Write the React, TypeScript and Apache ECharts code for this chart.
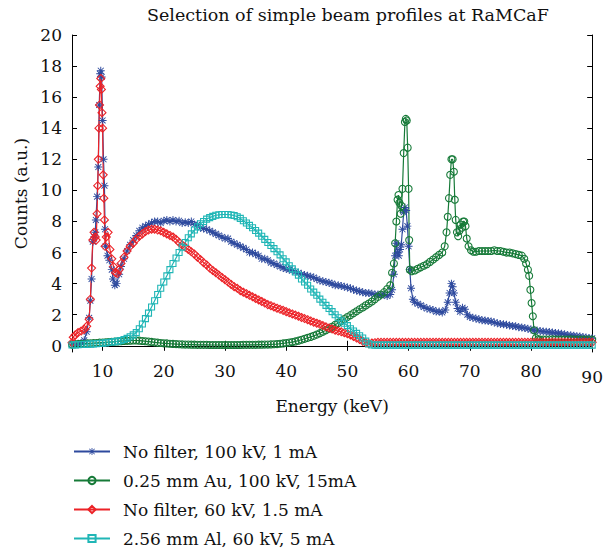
import React, { useEffect, useRef } from 'react';
import * as echarts from 'echarts';

const FONT = "'DejaVu Serif', 'Liberation Serif', serif";
const titleText = 'Selection of simple beam profiles at RaMCaF';
const xAxisName = 'Energy (keV)';
const yAxisName = 'Counts (a.u.)';
const xTickValues = [10, 20, 30, 40, 50, 60, 70, 80, 90];
const yTickValues = [0, 2, 4, 6, 8, 10, 12, 14, 16, 18, 20];
const seriesNames = [
  'No filter, 100 kV, 1 mA',
  '0.25 mm Au, 100 kV, 15mA',
  'No filter, 60 kV, 1.5 mA',
  '2.56 mm Al, 60 kV, 5 mA',
];
const seriesColors = ['#2e4a9e', '#167a38', '#ec2227', '#20b6b6'];

// No filter, 100 kV, 1 mA  [energy keV, counts]
const noFilter100 = [
  [5, 0.1], [5.5, 0.12], [6, 0.13], [6.5, 0.18], [7, 0.35], [7.4, 0.9], [7.8, 1.8], [8, 2.9], [8.2, 4.3], [8.4, 6.7],
  [8.6, 7.0], [8.8, 7.3], [8.9, 8.1], [9.1, 9.6], [9.3, 11.5], [9.45, 15.5], [9.6, 17.5], [9.7, 17.7], [9.85, 17.3], [10, 14.5],
  [10.15, 12], [10.3, 10.3], [10.4, 7.5], [10.5, 6.4], [10.8, 5.8], [11.1, 5.5], [11.5, 4.9], [11.7, 4.3], [12, 3.9], [12.3, 4.0],
  [12.7, 4.6], [13, 5.1], [13.5, 5.6], [14, 6.1], [14.5, 6.5], [15, 6.8], [15.5, 7.1], [16, 7.4], [16.5, 7.6], [17, 7.7],
  [17.5, 7.8], [18, 7.9], [18.5, 8.0], [19, 8.0], [19.5, 7.9], [20, 8.05], [20.5, 8.1], [21, 8.0], [21.5, 8.1], [22, 8.0],
  [22.5, 8.05], [23, 7.9], [23.5, 7.95], [24, 7.9], [24.5, 8.0], [25, 7.8], [25.5, 7.8], [26, 7.6], [26.5, 7.55], [27, 7.5],
  [27.5, 7.4], [28, 7.3], [28.5, 7.2], [29, 7.1], [29.5, 7.0], [30, 6.9], [30.5, 6.9], [31, 6.7], [31.5, 6.6], [32, 6.5],
  [32.5, 6.4], [33, 6.3], [33.5, 6.2], [34, 6.0], [34.5, 6.0], [35, 5.9], [35.5, 5.8], [36, 5.6], [36.5, 5.6], [37, 5.5],
  [37.5, 5.35], [38, 5.3], [38.5, 5.2], [39, 5.1], [39.5, 5.0], [40, 4.95], [40.5, 4.9], [41, 4.85], [41.5, 4.75], [42, 4.7],
  [42.5, 4.6], [43, 4.55], [43.5, 4.5], [44, 4.45], [44.5, 4.4], [45, 4.3], [45.5, 4.2], [46, 4.15], [46.5, 4.1], [47, 4.05],
  [47.5, 4.0], [48, 3.9], [48.5, 3.9], [49, 3.85], [49.5, 3.8], [50, 3.75], [50.5, 3.7], [51, 3.6], [51.5, 3.55], [52, 3.5],
  [52.5, 3.45], [53, 3.4], [53.5, 3.4], [54, 3.35], [54.5, 3.3], [55, 3.3], [55.5, 3.25], [56, 3.3], [56.5, 3.2], [57, 3.3],
  [57.3, 3.6], [57.6, 4.6], [57.8, 5.8], [58, 6.6], [58.2, 6.0], [58.4, 5.8], [58.6, 6.2], [58.8, 6.5], [59, 7.5], [59.2, 8.6],
  [59.4, 8.9], [59.6, 8.7], [59.8, 7.7], [60, 6.4], [60.2, 4.9], [60.4, 3.7], [60.7, 3.0], [61, 2.8], [61.5, 2.7], [62, 2.6],
  [62.5, 2.5], [63, 2.4], [63.5, 2.35], [64, 2.3], [64.5, 2.2], [65, 2.2], [65.5, 2.15], [66, 2.3], [66.4, 2.8], [66.7, 3.4],
  [67, 4.0], [67.2, 3.8], [67.4, 3.4], [67.7, 2.8], [68, 2.4], [68.4, 2.2], [68.8, 2.45], [69.2, 2.35], [69.6, 2.0], [70, 1.85],
  [70.5, 1.8], [71, 1.75], [71.5, 1.7], [72, 1.65], [72.5, 1.62], [73, 1.6], [73.5, 1.57], [74, 1.5], [74.5, 1.45], [75, 1.4],
  [75.5, 1.38], [76, 1.35], [76.5, 1.3], [77, 1.28], [77.5, 1.25], [78, 1.2], [78.5, 1.17], [79, 1.14], [79.5, 1.1], [80, 1.05],
  [80.5, 1.0], [81, 0.98], [81.5, 0.95], [82, 0.92], [82.5, 0.9], [83, 0.88], [83.5, 0.85], [84, 0.82], [84.5, 0.8], [85, 0.77],
  [85.5, 0.74], [86, 0.7], [86.5, 0.68], [87, 0.65], [87.5, 0.62], [88, 0.6], [88.5, 0.57], [89, 0.53], [89.5, 0.5], [90, 0.48],
];

// 0.25 mm Au, 100 kV, 15 mA
const gold100 = [
  [5, 0.08], [5.5, 0.1], [6, 0.11], [6.5, 0.12], [7, 0.13], [7.5, 0.15], [8, 0.16], [8.5, 0.17], [9, 0.18], [9.5, 0.2],
  [10, 0.21], [10.5, 0.22], [11, 0.24], [11.5, 0.25], [12, 0.27], [12.5, 0.28], [13, 0.3], [13.5, 0.31], [14, 0.32], [14.5, 0.33],
  [15, 0.34], [15.5, 0.34], [16, 0.33], [16.5, 0.31], [17, 0.29], [17.5, 0.27], [18, 0.25], [18.5, 0.22], [19, 0.2], [19.5, 0.18],
  [20, 0.16], [20.5, 0.15], [21, 0.13], [21.5, 0.12], [22, 0.11], [22.5, 0.1], [23, 0.09], [23.5, 0.08], [24, 0.08], [24.5, 0.07],
  [25, 0.07], [25.5, 0.06], [26, 0.06], [26.5, 0.06], [27, 0.06], [27.5, 0.05], [28, 0.05], [28.5, 0.05], [29, 0.05], [29.5, 0.05],
  [30, 0.05], [30.5, 0.05], [31, 0.05], [31.5, 0.05], [32, 0.05], [32.5, 0.05], [33, 0.06], [33.5, 0.06], [34, 0.06], [34.5, 0.06],
  [35, 0.06], [35.5, 0.07], [36, 0.07], [36.5, 0.08], [37, 0.08], [37.5, 0.09], [38, 0.1], [38.5, 0.11], [39, 0.13], [39.5, 0.15],
  [40, 0.18], [40.5, 0.21], [41, 0.24], [41.5, 0.28], [42, 0.33], [42.5, 0.39], [43, 0.45], [43.5, 0.51], [44, 0.57], [44.5, 0.64],
  [45, 0.72], [45.5, 0.81], [46, 0.9], [46.5, 1.0], [47, 1.1], [47.5, 1.22], [48, 1.35], [48.5, 1.47], [49, 1.6], [49.5, 1.72],
  [50, 1.85], [50.5, 1.97], [51, 2.1], [51.5, 2.22], [52, 2.35], [52.5, 2.47], [53, 2.6], [53.5, 2.72], [54, 2.85], [54.5, 3.0],
  [55, 3.15], [55.5, 3.3], [56, 3.45], [56.5, 3.65], [57, 3.9], [57.3, 4.7], [57.6, 5.3], [57.8, 6.6], [58, 8.0], [58.2, 9.4],
  [58.35, 9.7], [58.5, 9.2], [58.7, 8.5], [58.85, 9.0], [59, 10.1], [59.2, 12.4], [59.4, 14.4], [59.55, 14.6], [59.7, 14.5], [59.85, 12.75],
  [60, 10.1], [60.1, 6.8], [60.2, 4.9], [60.5, 4.8], [61, 4.85], [61.5, 4.95], [62, 5.05], [62.5, 5.15], [63, 5.25], [63.5, 5.4],
  [64, 5.55], [64.5, 5.7], [65, 5.85], [65.5, 6.0], [65.9, 6.4], [66.2, 7.3], [66.4, 8.3], [66.6, 9.5], [66.8, 11.0], [67, 12.0],
  [67.2, 12.0], [67.4, 11.2], [67.55, 9.4], [67.7, 8.1], [67.9, 7.3], [68.1, 7.05], [68.3, 7.4], [68.5, 7.8], [68.7, 7.6], [68.9, 8.0],
  [69.1, 8.0], [69.3, 7.7], [69.5, 6.9], [69.8, 6.4], [70.2, 6.15], [70.6, 6.05], [71, 6.05], [71.5, 6.1], [72, 6.1], [72.5, 6.1],
  [73, 6.1], [73.5, 6.1], [74, 6.15], [74.5, 6.1], [75, 6.1], [75.5, 6.05], [76, 6.0], [76.5, 6.0], [77, 5.95], [77.5, 5.9],
  [78, 5.85], [78.5, 5.8], [78.9, 5.6], [79.2, 5.3], [79.5, 4.9], [79.7, 4.5], [79.9, 3.6], [80.1, 2.75], [80.3, 1.9], [80.5, 1.0],
  [80.8, 0.5], [81.2, 0.42], [81.5, 0.4], [82, 0.4], [82.5, 0.4], [83, 0.4], [83.5, 0.41], [84, 0.4], [84.5, 0.4], [85, 0.4],
  [85.5, 0.4], [86, 0.4], [86.5, 0.41], [87, 0.4], [87.5, 0.4], [88, 0.4], [88.5, 0.4], [89, 0.4], [89.5, 0.4], [90, 0.4],
];

// No filter, 60 kV, 1.5 mA
const noFilter60 = [
  [5, 0.2], [5.2, 0.55], [5.5, 0.7], [6, 0.85], [6.5, 0.95], [7, 1.05], [7.4, 1.25], [7.8, 1.7], [8, 3.0], [8.2, 5.0],
  [8.4, 6.8], [8.6, 7.3], [8.8, 7.0], [8.95, 6.8], [9.1, 8.5], [9.2, 10.3], [9.3, 12.0], [9.4, 14.0], [9.5, 15.5], [9.6, 16.7],
  [9.7, 17.2], [9.8, 16.5], [9.9, 15.0], [10, 14.0], [10.1, 11.0], [10.2, 9.5], [10.3, 8.1], [10.4, 6.4], [10.6, 7.0], [10.9, 7.3],
  [11.2, 6.2], [11.5, 5.6], [11.8, 5.1], [12.1, 4.7], [12.4, 4.65], [12.7, 4.9], [13, 5.3], [13.5, 5.7], [14, 6.1], [14.5, 6.4],
  [15, 6.6], [15.5, 6.85], [16, 7.05], [16.5, 7.2], [17, 7.35], [17.5, 7.45], [18, 7.5], [18.5, 7.5], [19, 7.45], [19.5, 7.4],
  [20, 7.3], [20.5, 7.2], [21, 7.1], [21.5, 7.0], [22, 6.85], [22.5, 6.65], [23, 6.5], [23.5, 6.35], [24, 6.2], [24.5, 6.05],
  [25, 5.9], [25.5, 5.7], [26, 5.55], [26.5, 5.35], [27, 5.2], [27.5, 5.0], [28, 4.85], [28.5, 4.7], [29, 4.55], [29.5, 4.4],
  [30, 4.25], [30.5, 4.1], [31, 3.95], [31.5, 3.8], [32, 3.7], [32.5, 3.55], [33, 3.45], [33.5, 3.35], [34, 3.25], [34.5, 3.15],
  [35, 3.05], [35.5, 2.95], [36, 2.85], [36.5, 2.75], [37, 2.65], [37.5, 2.58], [38, 2.5], [38.5, 2.42], [39, 2.35], [39.5, 2.28],
  [40, 2.2], [40.5, 2.12], [41, 2.05], [41.5, 1.98], [42, 1.9], [42.5, 1.82], [43, 1.75], [43.5, 1.68], [44, 1.6], [44.5, 1.52],
  [45, 1.45], [45.5, 1.38], [46, 1.3], [46.5, 1.22], [47, 1.15], [47.5, 1.08], [48, 1.0], [48.5, 0.95], [49, 0.9], [49.5, 0.84],
  [50, 0.78], [50.5, 0.7], [51, 0.6], [51.5, 0.5], [52, 0.4], [52.5, 0.3], [53, 0.2], [53.5, 0.14], [54, 0.18], [54.5, 0.2],
  [55, 0.22], [55.5, 0.22], [56, 0.22], [56.5, 0.22], [57, 0.22], [57.5, 0.22], [58, 0.22], [58.5, 0.22], [59, 0.22], [59.5, 0.22],
  [60, 0.22], [60.5, 0.22], [61, 0.22], [61.5, 0.22], [62, 0.22], [62.5, 0.22], [63, 0.22], [63.5, 0.22], [64, 0.22], [64.5, 0.22],
  [65, 0.22], [65.5, 0.22], [66, 0.22], [66.5, 0.22], [67, 0.22], [67.5, 0.22], [68, 0.22], [68.5, 0.22], [69, 0.22], [69.5, 0.22],
  [70, 0.22], [70.5, 0.22], [71, 0.22], [71.5, 0.22], [72, 0.22], [72.5, 0.22], [73, 0.22], [73.5, 0.22], [74, 0.22], [74.5, 0.22],
  [75, 0.22], [75.5, 0.22], [76, 0.22], [76.5, 0.22], [77, 0.22], [77.5, 0.22], [78, 0.22], [78.5, 0.22], [79, 0.22], [79.5, 0.22],
  [80, 0.22], [80.5, 0.22], [81, 0.22], [81.5, 0.22], [82, 0.22], [82.5, 0.22], [83, 0.22], [83.5, 0.22], [84, 0.22], [84.5, 0.22],
  [85, 0.22], [85.5, 0.22], [86, 0.22], [86.5, 0.22], [87, 0.22], [87.5, 0.22], [88, 0.22], [88.5, 0.22], [89, 0.22], [89.5, 0.22], [90, 0.22],
];

// 2.56 mm Al, 60 kV, 5 mA
const alum60 = [
  [5, 0.05], [5.5, 0.06], [6, 0.07], [6.5, 0.08], [7, 0.09], [7.5, 0.1], [8, 0.11], [8.5, 0.12], [9, 0.14], [9.5, 0.15],
  [10, 0.17], [10.5, 0.19], [11, 0.21], [11.5, 0.24], [12, 0.27], [12.5, 0.3], [13, 0.34], [13.5, 0.4], [14, 0.48], [14.5, 0.58],
  [15, 0.7], [15.5, 0.85], [16, 1.1], [16.5, 1.4], [17, 1.75], [17.5, 2.1], [18, 2.5], [18.5, 2.9], [19, 3.3], [19.5, 3.7],
  [20, 4.1], [20.5, 4.5], [21, 4.9], [21.5, 5.3], [22, 5.65], [22.5, 6.0], [23, 6.35], [23.5, 6.65], [24, 6.95], [24.5, 7.2],
  [25, 7.45], [25.5, 7.65], [26, 7.85], [26.5, 8.0], [27, 8.15], [27.5, 8.25], [28, 8.33], [28.5, 8.4], [29, 8.43], [29.5, 8.45],
  [30, 8.45], [30.5, 8.45], [31, 8.42], [31.5, 8.38], [32, 8.3], [32.5, 8.2], [33, 8.05], [33.5, 7.9], [34, 7.75], [34.5, 7.6],
  [35, 7.42], [35.5, 7.25], [36, 7.05], [36.5, 6.85], [37, 6.65], [37.5, 6.45], [38, 6.25], [38.5, 6.05], [39, 5.85], [39.5, 5.6],
  [40, 5.4], [40.5, 5.15], [41, 4.95], [41.5, 4.75], [42, 4.55], [42.5, 4.3], [43, 4.1], [43.5, 3.9], [44, 3.65], [44.5, 3.45],
  [45, 3.25], [45.5, 3.0], [46, 2.8], [46.5, 2.6], [47, 2.4], [47.5, 2.2], [48, 2.0], [48.5, 1.8], [49, 1.6], [49.5, 1.45],
  [50, 1.3], [50.5, 1.1], [51, 0.95], [51.5, 0.8], [52, 0.65], [52.5, 0.5], [53, 0.3], [53.5, 0.12], [54, 0.05], [54.5, 0.04],
  [55, 0.04], [55.5, 0.04], [56, 0.04], [56.5, 0.04], [57, 0.04], [57.5, 0.04], [58, 0.04], [58.5, 0.04], [59, 0.04], [59.5, 0.04],
  [60, 0.04], [60.5, 0.04], [61, 0.04], [61.5, 0.04], [62, 0.04], [62.5, 0.04], [63, 0.04], [63.5, 0.04], [64, 0.04], [64.5, 0.04],
  [65, 0.04], [65.5, 0.04], [66, 0.04], [66.5, 0.04], [67, 0.04], [67.5, 0.04], [68, 0.04], [68.5, 0.04], [69, 0.04], [69.5, 0.04],
  [70, 0.04], [70.5, 0.04], [71, 0.04], [71.5, 0.04], [72, 0.04], [72.5, 0.04], [73, 0.04], [73.5, 0.04], [74, 0.04], [74.5, 0.04],
  [75, 0.04], [75.5, 0.04], [76, 0.04], [76.5, 0.04], [77, 0.04], [77.5, 0.04], [78, 0.04], [78.5, 0.04], [79, 0.04], [79.5, 0.04],
  [80, 0.04], [80.5, 0.04], [81, 0.04], [81.5, 0.04], [82, 0.04], [82.5, 0.04], [83, 0.04], [83.5, 0.04], [84, 0.04], [84.5, 0.04],
  [85, 0.04], [85.5, 0.04], [86, 0.04], [86.5, 0.04], [87, 0.04], [87.5, 0.04], [88, 0.04], [88.5, 0.04], [89, 0.04], [89.5, 0.04], [90, 0.04],
];

const ASTERISK =
  'path://M4.4,0h1.2v10h-1.2z M0,4.4h10v1.2h-10z M0.9,1.7l0.8-0.8 7.4,7.4 -0.8,0.8z M8.3,0.9l0.8,0.8 -7.4,7.4 -0.8-0.8z';

function buildOption() {
  const datasets = [noFilter100, gold100, noFilter60, alum60];
  const symbols = [ASTERISK, 'circle', 'diamond', 'rect'];
  const sizes = [8, 7, 8, 6];
  const series = datasets.map((d, i) => ({
    name: seriesNames[i],
    type: 'line',
    data: d,
    xAxisIndex: 0,
    yAxisIndex: 0,
    symbol: symbols[i],
    symbolSize: sizes[i],
    showSymbol: true,
    showAllSymbol: true,
    clip: true,
    lineStyle: { color: seriesColors[i], width: 1.2 },
    itemStyle:
      i === 0
        ? { color: seriesColors[i], borderWidth: 0 }
        : { color: 'rgba(255,255,255,0)', borderColor: seriesColors[i], borderWidth: 1.1 },
    emphasis: { disabled: true },
  }));

  const axisLineStyle = { show: true, lineStyle: { color: '#000', width: 1 } };
  const labelFont = { fontFamily: FONT, fontSize: 17, color: '#111' };

  return {
    animation: false,
    color: seriesColors,
    title: {
      text: titleText,
      left: 147,
      top: 6,
      padding: 0,
      textStyle: { fontFamily: FONT, fontSize: 17.5, fontWeight: 'normal', color: '#111' },
    },
    legend: {
      orient: 'vertical',
      left: 73,
      top: 443,
      padding: 0,
      itemWidth: 36,
      itemHeight: 9,
      itemGap: 12,
      height: 109,
      data: seriesNames,
      textStyle: { fontFamily: FONT, fontSize: 17, color: '#111', padding: [0, 0, 0, 8] },
    },
    grid: { left: 72, right: 10, top: 35, bottom: 200, containLabel: false },
    xAxis: [
      {
        type: 'value',
        min: 5,
        max: 90,
        position: 'bottom',
        name: xAxisName,
        nameLocation: 'middle',
        nameGap: 45,
        nameTextStyle: { fontFamily: FONT, fontSize: 17, color: '#111' },
        axisLine: axisLineStyle,
        axisTick: { show: true, inside: true, length: 5, customValues: xTickValues, lineStyle: { color: '#000' } },
        axisLabel: {
          ...labelFont,
          margin: 10,
          customValues: xTickValues,
          formatter: (v: number) => (v === 90 ? '{low|90}' : String(v)),
          rich: { low: { ...labelFont, padding: [6, 0, 0, 0] } },
        },
        splitLine: { show: false },
      },
      {
        type: 'value',
        min: 5,
        max: 90,
        position: 'top',
        axisLine: axisLineStyle,
        axisTick: { show: true, inside: true, length: 5, customValues: xTickValues, lineStyle: { color: '#000' } },
        axisLabel: { show: false },
        splitLine: { show: false },
      },
    ],
    yAxis: [
      {
        type: 'value',
        min: -0.4,
        max: 20,
        position: 'left',
        name: yAxisName,
        nameLocation: 'middle',
        nameRotate: 90,
        nameGap: 41,
        nameTextStyle: { fontFamily: FONT, fontSize: 17, color: '#111' },
        axisLine: axisLineStyle,
        axisTick: { show: true, inside: true, length: 5, customValues: yTickValues, lineStyle: { color: '#000' } },
        axisLabel: { ...labelFont, margin: 10, customValues: yTickValues },
        splitLine: { show: false },
      },
      {
        type: 'value',
        min: -0.4,
        max: 20,
        position: 'right',
        axisLine: axisLineStyle,
        axisTick: { show: true, inside: true, length: 5, customValues: yTickValues, lineStyle: { color: '#000' } },
        axisLabel: { show: false },
        splitLine: { show: false },
      },
    ],
    series,
  };
}

export default function App() {
  const ref = useRef<HTMLDivElement>(null);
  useEffect(() => {
    if (!ref.current) return;
    const chart = echarts.init(ref.current, null, { renderer: 'svg' });
    chart.setOption(buildOption() as any);
    return () => chart.dispose();
  }, []);
  return (
    <div
      ref={ref}
      style={{ position: 'fixed', left: 0, top: 0, width: 606, height: 552, background: '#fff' }}
    />
  );
}
